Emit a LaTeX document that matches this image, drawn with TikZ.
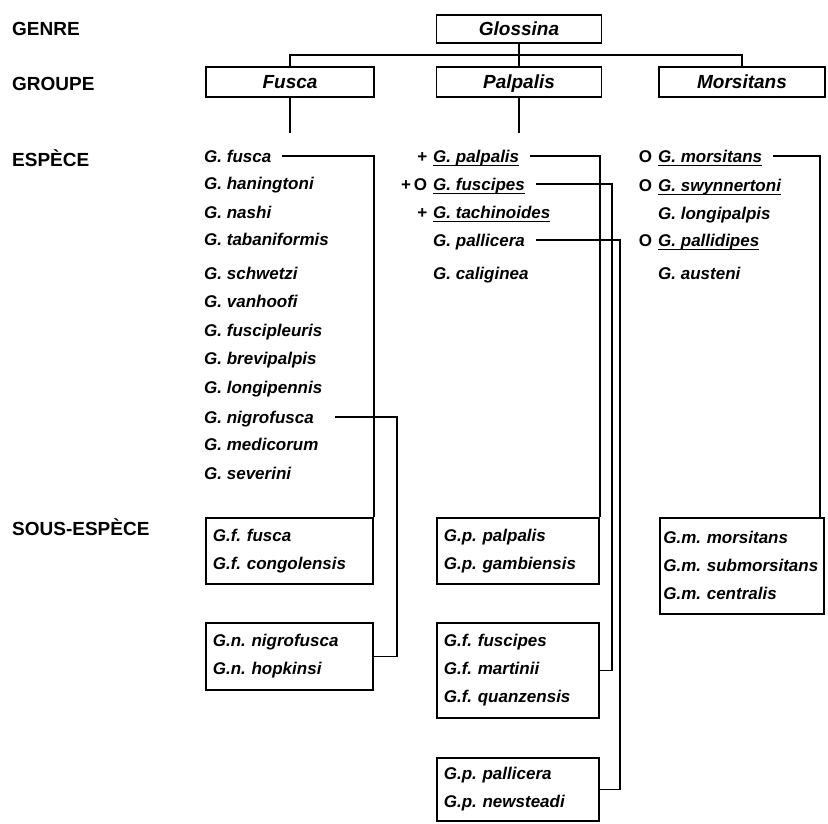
\documentclass[tikz,border=0pt]{standalone}
\usepackage{fontspec}
\setmainfont{Liberation Sans}
\usetikzlibrary{positioning,calc}

% soulignement epais et marques devant les especes
\newcommand\souligne[1]{\setbox0\hbox{#1}\rlap{\rule[-3.6pt]{\wd0}{1.3pt}}\box0}
\newcommand\marque[1]{\llap{\upshape #1\hspace{6pt}}}
\newcommand\sousfont{\fontsize{17}{28}\selectfont\bfseries\itshape\frenchspacing\hyphenpenalty=10000\relax}

\tikzset{
  lien/.style={line width=1.7pt},
  niveau/.style={anchor=west, inner sep=0pt, text height=14pt, text depth=0pt,
    font=\fontsize{19}{22}\selectfont\bfseries},
  espece/.style={anchor=west, inner xsep=11pt, inner ysep=0pt, text height=12.5pt, text depth=0pt,
    font=\fontsize{17}{20}\selectfont\bfseries\itshape},
  taxon/.style={draw, line width=1.7pt, minimum height=30pt, inner sep=0pt,
    text height=13.5pt, text depth=0pt,
    font=\fontsize{19}{22}\selectfont\bfseries\itshape},
  sousbox/.style={draw, line width=1.7pt, anchor=north west, align=left, inner xsep=7pt,
    inner ysep=0pt, font=\sousfont}
}

\begin{document}
\begin{tikzpicture}[x=1pt,y=-1pt]
\useasboundingbox (0,0) rectangle (828,823);

% niveaux
\node[niveau] (genre)  at (12,28)  {GENRE};
\node[niveau] (groupe) at (12,83)  {GROUPE};
\node[niveau] (espece) at (12,159) {ESPÈCE};
\node[niveau] (sousespece) at (12,528) {SOUS-ESPÈCE};

% genre et groupes
\node[taxon, minimum width=165pt, minimum height=28pt] (glossina) at (519,29) {Glossina};
\node[taxon, minimum width=168pt] (gfusca) at (290,82) {Fusca};
\node[taxon, minimum width=165pt] (gpalpalis) at (519,82) {Palpalis};
\node[taxon, minimum width=166pt] (gmorsitans) at (742,82) {Morsitans};

\draw[lien] (glossina.south) -- (gpalpalis.north);
\draw[lien] (gfusca.north) -- ++(0,-11) -| (gmorsitans.north);
\coordinate (finF) at (290,133);
\coordinate (finP) at (519,133);
\draw[lien] (gfusca.south) -- (finF);
\draw[lien] (gpalpalis.south) -- (finP);

% especes
\foreach \y/\nom/\texte in {156/fusca/{G. fusca}, 183/haningtoni/{G. haningtoni},
    212/nashi/{G. nashi}, 239/tabaniformis/{G. tabaniformis}, 273/schwetzi/{G. schwetzi},
    301/vanhoofi/{G. vanhoofi}, 330/fuscipleuris/{G. fuscipleuris},
    358/brevipalpis/{G. brevipalpis}, 387/longipennis/{G. longipennis},
    417/nigrofusca/{G. nigrofusca}, 444/medicorum/{G. medicorum}, 473/severini/{G. severini}}
  \node[espece] (\nom) at (193,\y) {\texte};

\foreach \y/\nom/\texte in {156/palpalis/{\marque{+}\souligne{G. palpalis}},
    184/fuscipes/{\marque{+\kern3pt O}\souligne{G. fuscipes}},
    212/tachinoides/{\marque{+}\souligne{G. tachinoides}},
    240/pallicera/{G. pallicera}, 273/caliginea/{G. caliginea}}
  \node[espece] (\nom) at (422,\y) {\texte};

\foreach \y/\nom/\texte in {156/morsitans/{\marque{O}\souligne{G. morsitans}},
    185/swynnertoni/{\marque{O}\souligne{G. swynnertoni}},
    213/longipalpis/{G. longipalpis},
    240/pallidipes/{\marque{O}\souligne{G. pallidipes}}, 273/austeni/{G. austeni}}
  \node[espece] (\nom) at (647,\y) {\texte};

% sous-especes
\node[sousbox, text width=153pt, minimum height=66pt] (sfusca) at (205,517)
  {G.f. fusca\\G.f. congolensis};
\node[sousbox, text width=153pt, minimum height=67pt] (snigro) at (205,622)
  {G.n. nigrofusca\\G.n. hopkinsi};
\node[sousbox, text width=148pt, minimum height=66pt] (spalpalis) at (436,517)
  {G.p. palpalis\\G.p. gambiensis};
\node[sousbox, text width=148pt, minimum height=95pt] (sfuscipes) at (436,622)
  {G.f. fuscipes\\G.f. martinii\\G.f. quanzensis};
\node[sousbox, text width=148pt, minimum height=63pt] (spallicera) at (436,757)
  {G.p. pallicera\\G.p. newsteadi};
\node[sousbox, text width=157pt, minimum height=96pt, inner xsep=3.5pt] (smorsitans) at (659,517)
  {G.m. morsitans\\G.m. submorsitans\\G.m. centralis};

% liens especes -> sous-especes
\coordinate (railN) at (397,0);
\coordinate (railF) at (612,0);
\coordinate (railP) at (620,0);
\draw[lien] (fusca.east) -| (sfusca.north east);
\draw[lien] ([xshift=10pt]nigrofusca.east) -- (nigrofusca.east -| railN) |- (snigro.east);
\draw[lien] (palpalis.east) -| (spalpalis.north east);
\draw[lien] (fuscipes.east) -- (fuscipes.east -| railF) |- (sfuscipes.east);
\draw[lien] (pallicera.east) -- (pallicera.east -| railP) |- (spallicera.east);
\draw[lien] (morsitans.east) -| ([xshift=-5pt]smorsitans.north east);
\end{tikzpicture}
\end{document}
